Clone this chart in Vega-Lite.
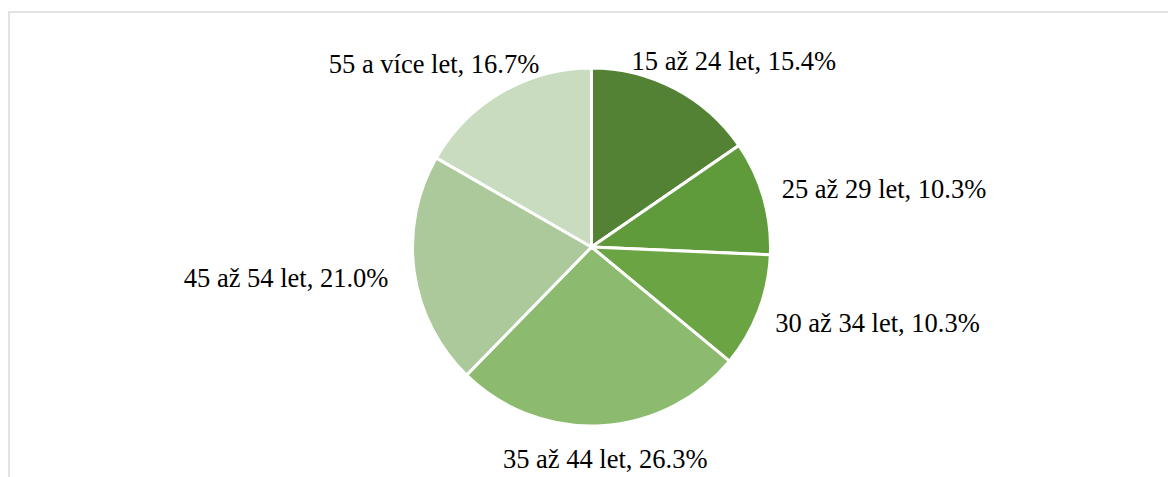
{
  "$schema": "https://vega.github.io/schema/vega-lite/v6.json",
  "autosize": "none",
  "padding": {"left": 9, "top": 12, "right": 0, "bottom": 0},
  "width": 1165,
  "height": 470,
  "background": "white",
  "view": {"stroke": "#d9d9d9", "strokeWidth": 1.5, "fill": "white"},
  "config": {"view": {"stroke": "#d9d9d9", "strokeWidth": 1.5}},
  "data": {"values": [
    {"age": "15 až 24 let", "pct": 15.4, "label": "15 až 24 let, 15.4%"},
    {"age": "25 až 29 let", "pct": 10.3, "label": "25 až 29 let, 10.3%"},
    {"age": "30 až 34 let", "pct": 10.3, "label": "30 až 34 let, 10.3%"},
    {"age": "35 až 44 let", "pct": 26.3, "label": "35 až 44 let, 26.3%"},
    {"age": "45 až 54 let", "pct": 21.0, "label": "45 až 54 let, 21.0%"},
    {"age": "55 a více let", "pct": 16.7, "label": "55 a více let, 16.7%"}
  ]},
  "encoding": {
    "theta": {"field": "pct", "type": "quantitative", "stack": true},
    "order": {"field": "age", "type": "ordinal", "sort": "ascending"}
  },
  "layer": [
    {
      "mark": {"type": "arc", "outerRadius": 179, "stroke": "white", "strokeWidth": 3},
      "encoding": {
        "color": {
          "field": "age", "type": "nominal", "legend": null,
          "scale": {
            "domain": ["15 až 24 let", "25 až 29 let", "30 až 34 let", "35 až 44 let", "45 až 54 let", "55 a více let"],
            "range": ["#548235", "#5f9a3b", "#6aa443", "#8cbb6f", "#abc99a", "#c9dcc0"]
          }
        }
      }
    },
    {
      "mark": {"type": "text", "radius": 200, "align": "left", "baseline": "alphabetic", "dx": -53, "dy": 0, "font": "Times New Roman, Liberation Serif, DejaVu Serif, serif", "fontSize": 26.5, "color": "#000"},
      "encoding": {"text": {"condition": {"test": "datum.age == '15 až 24 let'", "field": "label"}, "value": ""}}
    },
    {
      "mark": {"type": "text", "radius": 200, "align": "left", "baseline": "alphabetic", "dx": -2, "dy": 6, "font": "Times New Roman, Liberation Serif, DejaVu Serif, serif", "fontSize": 26.5, "color": "#000"},
      "encoding": {"text": {"condition": {"test": "datum.age == '25 až 29 let'", "field": "label"}, "value": ""}}
    },
    {
      "mark": {"type": "text", "radius": 200, "align": "left", "baseline": "alphabetic", "dx": -3, "dy": 13, "font": "Times New Roman, Liberation Serif, DejaVu Serif, serif", "fontSize": 26.5, "color": "#000"},
      "encoding": {"text": {"condition": {"test": "datum.age == '30 až 34 let'", "field": "label"}, "value": ""}}
    },
    {
      "mark": {"type": "text", "radius": 200, "align": "center", "baseline": "alphabetic", "dx": 3, "dy": 21, "font": "Times New Roman, Liberation Serif, DejaVu Serif, serif", "fontSize": 26.5, "color": "#000"},
      "encoding": {"text": {"condition": {"test": "datum.age == '35 až 44 let'", "field": "label"}, "value": ""}}
    },
    {
      "mark": {"type": "text", "radius": 200, "align": "right", "baseline": "alphabetic", "dx": -5, "dy": 12, "font": "Times New Roman, Liberation Serif, DejaVu Serif, serif", "fontSize": 26.5, "color": "#000"},
      "encoding": {"text": {"condition": {"test": "datum.age == '45 až 54 let'", "field": "label"}, "value": ""}}
    },
    {
      "mark": {"type": "text", "radius": 200, "align": "right", "baseline": "alphabetic", "dx": 48, "dy": -1, "font": "Times New Roman, Liberation Serif, DejaVu Serif, serif", "fontSize": 26.5, "color": "#000"},
      "encoding": {"text": {"condition": {"test": "datum.age == '55 a více let'", "field": "label"}, "value": ""}}
    }
  ]
}
